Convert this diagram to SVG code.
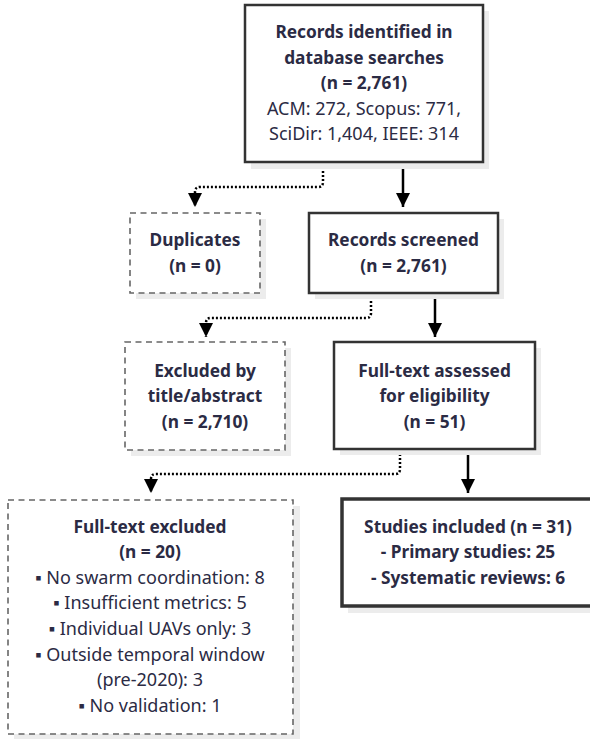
<svg xmlns="http://www.w3.org/2000/svg" width="590" height="739" viewBox="0 0 590 739">
<style>
.t{font-family:"Noto Sans","Open Sans","Liberation Sans",sans-serif;font-size:18px;fill:#2b2b44;text-anchor:middle}
.b{font-weight:bold;font-size:17.3px}
.box{fill:#fff;stroke:#333;stroke-width:2.5}
.main{fill:#fff;stroke:#333;stroke-width:3.5}
.dash{fill:#fff;stroke:#666;stroke-width:1.6;stroke-dasharray:6 4.5}
.sh{fill:#ececec}
.solid{fill:none;stroke:#000;stroke-width:2.5}
.dot{fill:none;stroke:#000;stroke-width:2.5;stroke-dasharray:2 2}
</style>
<defs>
<marker id="ah" markerUnits="userSpaceOnUse" markerWidth="14" markerHeight="14" refX="14" refY="7" orient="auto" viewBox="0 0 14 14">
<path d="M0,0 L14,7 L0,14 Z" fill="#000"/>
</marker>
</defs>
<g id="connectors">
<path class="solid" d="M403,163 V207" marker-end="url(#ah)"/>
<path class="dot" d="M323,163 V182 Q323,187 318,187 H200 Q195,187 195,192 V207" marker-end="url(#ah)"/>
<path class="solid" d="M435,293 V337" marker-end="url(#ah)"/>
<path class="dot" d="M371,293 V313 Q371,318 366,318 H211 Q206,318 206,323 V337" marker-end="url(#ah)"/>
<path class="solid" d="M468,450 V493" marker-end="url(#ah)"/>
<path class="dot" d="M400,450 V469 Q400,474 395,474 H156 Q151,474 151,479 V493" marker-end="url(#ah)"/>
</g>
<g id="identified">
<rect class="sh" x="251" y="11" width="238" height="158"/>
<rect class="box" x="245" y="5" width="238" height="157"/>
<text class="t b" x="364" y="38">Records identified in</text>
<text class="t b" x="364" y="64">database searches</text>
<text class="t b" x="364" y="89">(n = 2,761)</text>
<text class="t" x="364" y="115">ACM: 272, Scopus: 771,</text>
<text class="t" x="364" y="140">SciDir: 1,404, IEEE: 314</text>
</g>
<g id="duplicates">
<rect class="sh" x="136" y="219" width="130" height="80"/>
<rect class="dash" x="130" y="213" width="130" height="80"/>
<text class="t b" x="195" y="246">Duplicates</text>
<text class="t b" x="195" y="272">(n = 0)</text>
</g>
<g id="screened">
<rect class="sh" x="315" y="219" width="189" height="80"/>
<rect class="box" x="309" y="213" width="189" height="80"/>
<text class="t b" x="403.5" y="246">Records screened</text>
<text class="t b" x="403.5" y="272">(n = 2,761)</text>
</g>
<g id="excluded-title">
<rect class="sh" x="131" y="348" width="160" height="108"/>
<rect class="dash" x="125" y="342" width="160" height="108"/>
<text class="t b" x="205" y="377">Excluded by</text>
<text class="t b" x="205" y="402">title/abstract</text>
<text class="t b" x="205" y="428">(n = 2,710)</text>
</g>
<g id="assessed">
<rect class="sh" x="340" y="348" width="201" height="107"/>
<rect class="box" x="334" y="342" width="201" height="107"/>
<text class="t b" x="434.5" y="377">Full-text assessed</text>
<text class="t b" x="434.5" y="402">for eligibility</text>
<text class="t b" x="434.5" y="428">(n = 51)</text>
</g>
<g id="fulltext-excluded">
<rect class="sh" x="14" y="506" width="286" height="235"/>
<rect class="dash" x="8" y="500" width="285" height="234"/>
<text class="t b" x="150" y="533">Full-text excluded</text>
<text class="t b" x="150" y="558">(n = 20)</text>
<text class="t" x="150" y="584">▪ No swarm coordination: 8</text>
<text class="t" x="150" y="609">▪ Insufficient metrics: 5</text>
<text class="t" x="150" y="635">▪ Individual UAVs only: 3</text>
<text class="t" x="150" y="661">▪ Outside temporal window</text>
<text class="t" x="150" y="686">(pre-2020): 3</text>
<text class="t" x="150" y="712">▪ No validation: 1</text>
</g>
<g id="included">
<rect class="sh" x="348" y="505" width="252" height="108"/>
<rect class="main" x="342" y="499" width="252" height="107"/>
<text class="t b" x="468" y="533">Studies included (n = 31)</text>
<text class="t b" x="468" y="558">- Primary studies: 25</text>
<text class="t b" x="468" y="584">- Systematic reviews: 6</text>
</g>
</svg>
